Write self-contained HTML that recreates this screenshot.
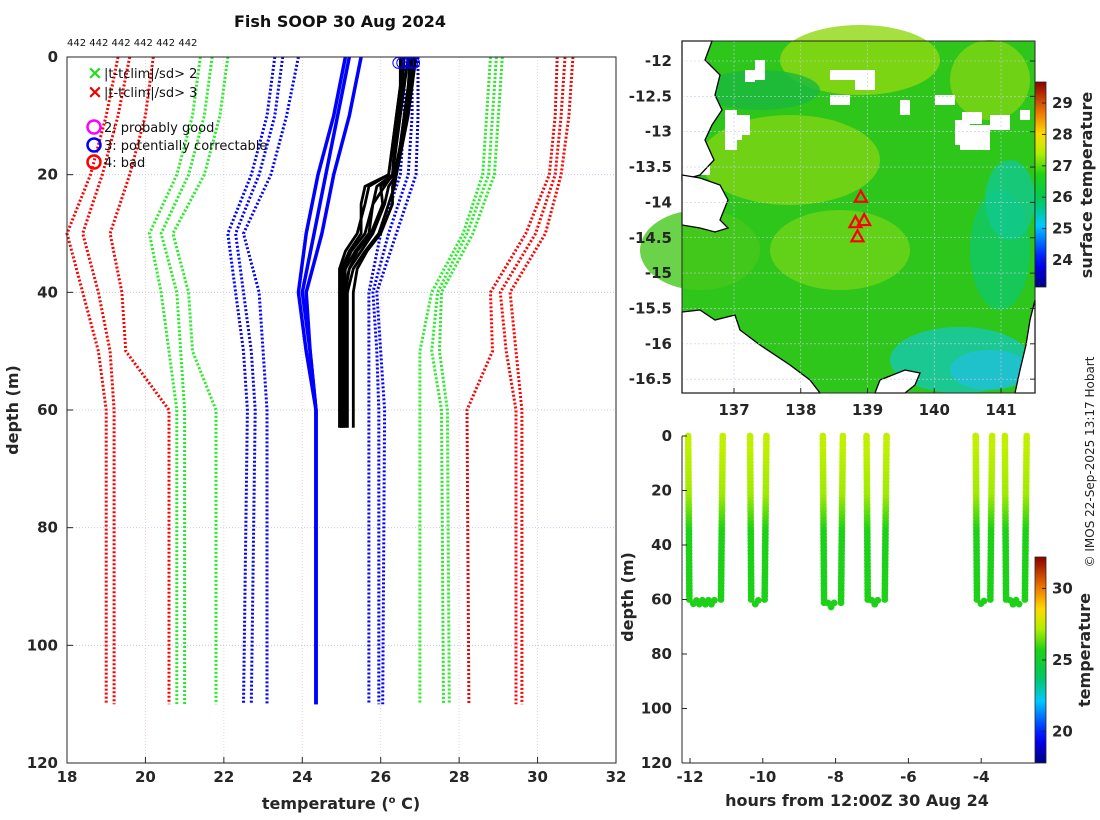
<!DOCTYPE html>
<html><head><meta charset="utf-8">
<style>
html,body{margin:0;padding:0;background:#fff;}
svg{display:block;font-family:"DejaVu Sans","Liberation Sans",sans-serif;}
.tk{font-size:15px;font-weight:bold;fill:#262626;}
.lab{font-size:16px;font-weight:bold;fill:#262626;}
</style></head>
<body>
<svg id="root" width="1100" height="820" viewBox="0 0 1100 820" xmlns="http://www.w3.org/2000/svg">
<text x="340" y="27" text-anchor="middle" font-size="16" font-weight="bold" fill="#111">Fish SOOP 30 Aug 2024</text>
<text x="67" y="46" font-size="10" fill="#111">442 442 442 442 442 442</text>
<g id="left"></g>
<g id="map"></g>
<g id="track"></g>
<text transform="translate(1094,462) rotate(-90)" text-anchor="middle" font-size="12" fill="#222">© IMOS 22-Sep-2025 13:17 Hobart</text>
</svg>
<script>
const NS="http://www.w3.org/2000/svg";
// ---------- data: profile plot ----------
const depthNodes=[0,10,20,30,40,50,60,110];
const redLeft=[[19.3,19.0,18.6,18.0,18.4,18.8,19.0,19.0],[19.6,19.3,18.9,18.4,18.8,19.1,19.2,19.2],[20.2,20.0,19.6,19.1,19.4,19.5,20.6,20.6]];
const greenLeft=[[21.4,21.2,20.8,20.1,20.4,20.6,20.8,20.8],[21.7,21.5,21.1,20.4,20.8,20.9,21.0,21.0],[22.1,21.9,21.5,20.7,21.1,21.2,21.8,21.8]];
const blueLeft=[[23.3,23.1,22.7,22.1,22.3,22.5,22.6,22.5],[23.5,23.3,22.9,22.3,22.5,22.7,22.8,22.7],[23.9,23.6,23.2,22.5,22.9,23.0,23.1,23.1]];
const blueSolid=[[25.1,24.8,24.4,24.1,23.9,24.1,24.35,24.35],[25.2,24.9,24.6,24.3,24.0,24.2,24.35,24.35],[25.5,25.2,24.8,24.5,24.1,24.2,24.35,24.35]];
const blueRight=[[26.6,26.6,26.5,26.0,25.7,25.7,25.7,25.7],[26.8,26.8,26.7,26.2,25.8,25.9,25.95,25.95],[26.95,26.95,26.9,26.4,25.9,26.0,26.1,26.05]];
const greenRight=[[28.8,28.7,28.6,28.1,27.3,27.0,27.0,27.0],[28.95,28.85,28.75,28.2,27.45,27.3,27.55,27.6],[29.1,29.0,28.9,28.35,27.55,27.5,27.7,27.75]];
const redRight=[[30.5,30.45,30.3,29.7,28.8,28.85,28.2,28.25],[30.7,30.6,30.45,29.95,29.05,29.2,29.45,29.45],[30.9,30.8,30.6,30.2,29.3,29.45,29.6,29.6]];
const blackDepths=[0,5,10,15,20,22,25,30,33,36,40,50,63];
const blackProfiles=[
[26.5,26.5,26.4,26.3,26.2,25.7,25.6,25.4,25.1,24.95,24.95,24.95,24.95],
[26.6,26.55,26.45,26.35,26.3,25.9,25.8,25.6,25.25,25.05,25.0,25.0,25.0],
[26.7,26.6,26.5,26.4,26.3,26.1,25.8,25.7,25.35,25.1,25.05,25.05,25.05],
[26.8,26.7,26.6,26.5,26.4,26.2,26.1,25.8,25.5,25.2,25.1,25.1,25.1],
[26.9,26.8,26.7,26.55,26.4,26.35,26.2,25.95,25.6,25.3,25.15,25.15,25.15],
[26.55,26.5,26.4,26.3,26.2,25.6,25.5,25.5,25.2,25.0,25.0,25.0,25.0],
[26.75,26.7,26.6,26.5,26.35,26.0,26.05,25.75,25.4,25.2,25.05,25.05,25.05],
[26.85,26.75,26.65,26.5,26.4,26.3,26.3,26.0,25.65,25.4,25.3,25.3,25.3]];
const surfaceMarks=[26.45,26.55,26.7,26.8,26.85];
const xTicks=[18,20,22,24,26,28,30,32];
const yTicks=[0,20,40,60,80,100,120];

function el(t,a,p){const e=document.createElementNS(NS,t);for(const k in a)e.setAttribute(k,a[k]);if(p)p.appendChild(e);return e;}
const L=document.getElementById('left');
const lx=v=>67+(v-18)*(549/14), ly=d=>57+d*(706/120);
xTicks.forEach(v=>{const g=el('line',{x1:lx(v),x2:lx(v),y1:57,y2:763,stroke:'#e8c8c8','stroke-width':0.8,'stroke-dasharray':'1,2'},L);

const t=el('text',{x:lx(v),y:782,'text-anchor':'middle',class:'tk'},L);t.textContent=v;

el('line',{x1:lx(v),x2:lx(v),y1:763,y2:757,stroke:'#262626'},L);});
yTicks.forEach(v=>{const g=el('line',{x1:67,x2:616,y1:ly(v),y2:ly(v),stroke:'#b8c0ee','stroke-width':0.8,'stroke-dasharray':'1,2'},L);

const t=el('text',{x:58,y:ly(v)+5,'text-anchor':'end',class:'tk'},L);t.textContent=v;

el('line',{x1:67,x2:73,y1:ly(v),y2:ly(v),stroke:'#262626'},L);});
function prof(arr,deps,color,w,dash,name){const d=arr.map((v,i)=>(i?'L':'M')+lx(v).toFixed(1)+','+ly(deps[i]).toFixed(1)).join('');
const p=el('path',{d:d,fill:'none',stroke:color,'stroke-width':w,'stroke-linejoin':'round'},L);if(dash)p.setAttribute('stroke-dasharray',dash);
}
redLeft.forEach(a=>prof(a,depthNodes,'#f00',3,'2,2','clim-red-lower'));
greenLeft.forEach(a=>prof(a,depthNodes,'#2e2',3,'2,2','clim-green-lower'));
blueLeft.forEach(a=>prof(a,depthNodes,'#00f',3,'2,2','clim-blue-lower'));
blueSolid.forEach(a=>prof(a,depthNodes,'#00f',3.5,null,'clim-mean-profile'));
blueRight.forEach(a=>prof(a,depthNodes,'#00f',3,'2,2','clim-blue-upper'));
greenRight.forEach(a=>prof(a,depthNodes,'#2e2',3,'2,2','clim-green-upper'));
redRight.forEach(a=>prof(a,depthNodes,'#f00',3,'2,2','clim-red-upper'));
blackProfiles.forEach(a=>prof(a,blackDepths,'#000',2.8,null,'measured-profile'));
surfaceMarks.forEach(v=>{const c=el('circle',{cx:lx(v),cy:ly(1),r:5.5,fill:'none',stroke:'#00f','stroke-width':1},L);
});
el('rect',{x:67,y:57,width:549,height:706,fill:'none',stroke:'#262626','stroke-width':1},L);
const lg=el('g',{},L);
[['×','#2d2',73,'|t-tclim|/sd> 2'],['×','#e00',92,'|t-tclim|/sd> 3']].forEach(r=>{
const m=el('text',{x:87,y:r[2]+6,'font-size':19,'font-weight':'bold',fill:r[1]},lg);m.textContent=r[0];
const t=el('text',{x:104,y:r[2]+5,'font-size':13,fill:'#111'},lg);t.textContent=r[3];
});
[['#f0f',127,'2: probably good'],['#00f',145,'3: potentially correctable'],['#f00',162,'4: bad']].forEach(r=>{
el('circle',{cx:94,cy:r[1],r:6.5,fill:'none',stroke:r[0],'stroke-width':2.5},lg);
const t=el('text',{x:104,y:r[1]+5,'font-size':13,fill:'#111'},lg);t.textContent=r[2];
});
const xl=el('text',{x:341,y:809,'text-anchor':'middle',class:'lab'},L);xl.innerHTML='temperature (<tspan font-size="10" dy="-6">o</tspan><tspan dy="6"> C)</tspan>';

const yl=el('text',{transform:'translate(18,410) rotate(-90)','text-anchor':'middle',class:'lab'},L);yl.textContent='depth (m)';


// ---------- colormap ----------
const jetStops=[[0,[0,0,128]],[0.12,[0,0,255]],[0.3,[0,200,255]],[0.42,[0,200,90]],[0.55,[30,210,20]],[0.66,[190,240,0]],[0.75,[255,215,0]],[0.86,[235,110,0]],[1,[140,0,0]]];
function cmap(f){f=Math.max(0,Math.min(1,f));for(let i=1;i<jetStops.length;i++){if(f<=jetStops[i][0]){const a=jetStops[i-1],b=jetStops[i],t=(f-a[0])/(b[0]-a[0]);
return 'rgb('+a[1].map((c,k)=>Math.round(c+(b[1][k]-c)*t)).join(',')+')';}}return 'rgb(140,0,0)';}
function colorbar(g,x,y0,y1,vmin,vmax,ticks,id){const defs=el('defs',{},g);const lgd=el('linearGradient',{id:id,x1:0,y1:1,x2:0,y2:0},defs);
for(let i=0;i<=20;i++)el('stop',{offset:i/20,'stop-color':cmap(i/20)},lgd);
const r=el('rect',{x:x,y:y0,width:11,height:y1-y0,fill:'url(#'+id+')',stroke:'#262626','stroke-width':0.8},g);

ticks.forEach(v=>{const yy=y1-(v-vmin)/(vmax-vmin)*(y1-y0);el('line',{x1:x+11,x2:x+7,y1:yy,y2:yy,stroke:'#262626'},g);
const t=el('text',{x:x+17,y:yy+5,class:'tk'},g);t.textContent=v;});}

// ---------- map ----------
const M=document.getElementById('map');
const lonTicks=[137,138,139,140,141];
const latTicks=[-12,-12.5,-13,-13.5,-14,-14.5,-15,-15.5,-16,-16.5];
const shipLon=[138.9,138.95,138.82,138.85];
const shipLat=[-13.92,-14.25,-14.28,-14.48];
const mx=v=>734+(v-137)*66.75, my=v=>61+(-12-v)*70.7;
el('rect',{x:682,y:41,width:353,height:352,fill:'#2fc61c'},M);
const patches=[[860,60,80,35,'#8ed810'],[990,80,40,40,'#7fd414'],[790,160,90,45,'#7fd414'],[840,250,70,40,'#6fd418'],[700,250,60,40,'#46c81c'],[1000,250,30,60,'#10c868'],[960,360,70,33,'#18c8b0'],[990,370,40,20,'#20c0d8'],[1010,200,25,40,'#10c890'],[760,90,60,20,'#1ab840']];
patches.forEach(p=>{const e=el('ellipse',{cx:p[0],cy:p[1],rx:p[2],ry:p[3],fill:p[4],opacity:0.8},M);});
const clouds=[[755,60,10,20],[745,70,10,12],[830,70,25,10],[855,70,20,20],[725,110,12,40],[830,95,20,10],[735,115,15,20],[935,95,20,10],[962,112,20,12],[955,120,15,25],[960,125,30,25],[730,130,12,10],[900,100,10,15],[990,115,20,15],[1020,110,10,10],[700,150,10,25]];
clouds.forEach(c=>{const e=el('rect',{x:c[0],y:c[1],width:c[2],height:c[3],fill:'#fff'},M);});
const land=[['M682,41 L712,41 L705,60 L720,75 L715,95 L722,110 L712,125 L705,140 L714,160 L700,175 L682,180 Z'],
['M682,175 L700,178 L720,185 L728,200 L720,220 L728,228 L715,232 L700,228 L682,225 Z'],
['M682,312 L700,310 L715,320 L735,315 L740,330 L760,345 L790,365 L810,380 L820,393 L682,393 Z'],
['M875,393 L880,380 L905,370 L920,373 L915,385 L905,393 Z'],
['M1035,300 L1030,320 L1026,345 L1020,370 L1015,393 L1035,393 Z']];
land.forEach(s=>{const e=el('path',{d:s[0],fill:'#fff',stroke:'#000','stroke-width':1.3},M);});
lonTicks.forEach(v=>{el('line',{x1:mx(v),x2:mx(v),y1:41,y2:393,stroke:'#c8cce8','stroke-width':0.6,'stroke-dasharray':'2,2'},M);
el('line',{x1:mx(v),x2:mx(v),y1:393,y2:388,stroke:'#262626'},M);
const t=el('text',{x:mx(v),y:415,'text-anchor':'middle',class:'tk'},M);t.textContent=v;});
latTicks.forEach(v=>{el('line',{x1:682,x2:1035,y1:my(v),y2:my(v),stroke:'#c8cce8','stroke-width':0.6,'stroke-dasharray':'2,2'},M);
el('line',{x1:1035,x2:1030,y1:my(v),y2:my(v),stroke:'#262626'},M);
const t=el('text',{x:672,y:my(v)+5,'text-anchor':'end',class:'tk'},M);t.textContent=v;});
shipLon.forEach((v,i)=>{const x=mx(v),y=my(shipLat[i]);const p=el('path',{d:`M${x},${y-6}L${x+6},${y+5}L${x-6},${y+5}Z`,fill:'none',stroke:'#f00','stroke-width':2.2},M);
});
el('rect',{x:682,y:41,width:353,height:352,fill:'none',stroke:'#262626','stroke-width':1},M);
colorbar(M,1035,82,287,23.14,29.67,[24,25,26,27,28,29],'cb1');
const ml=el('text',{transform:'translate(1092,185) rotate(-90)','text-anchor':'middle',class:'lab'},M);ml.textContent='surface temperature';


// ---------- depth-time plot ----------
const T=document.getElementById('track');
const castStart=[-12.05,-10.35,-8.35,-7.15,-4.15,-3.35];
const castEnd=[-11.1,-9.9,-7.8,-6.6,-3.7,-2.75];
const castBottom=[61,61,62,61,61,61];
const surfTemp=27.4, deepTemp=25.6, mixDepth=22;
const hTicks=[-12,-10,-8,-6,-4];
const dTicks=[0,20,40,60,80,100,120];
const tx=h=>690+(h+12)*36.4, ty=d=>436+d*(327/120);
const tcol=d=>{const t=d<mixDepth?surfTemp-(surfTemp-27.0)*d/mixDepth:Math.max(deepTemp,27.0-(d-mixDepth)*0.1);return cmap((t-17.8)/(32.2-17.8));};
castStart.forEach((h0,i)=>{const h1=castEnd[i],b=castBottom[i];const g=el('g',{},T);
for(let d=0;d<=b;d+=1.2){el('circle',{cx:tx(h0)+d*0.02,cy:ty(d),r:3.4,fill:tcol(d)},g);el('circle',{cx:tx(h1)-d*0.03,cy:ty(d),r:3.4,fill:tcol(d)},g);}
const x0=tx(h0)+b*0.02+4,x1=tx(h1)-b*0.03-4;for(let x=x0;x<=x1;x+=3)el('circle',{cx:x,cy:ty(b)+Math.sin(x)*2,r:3.4,fill:tcol(b)},g);});
el('line',{x1:682,x2:682,y1:436,y2:763,stroke:'#262626'},T);
el('line',{x1:682,x2:1035,y1:763,y2:763,stroke:'#262626'},T);
hTicks.forEach(v=>{el('line',{x1:tx(v),x2:tx(v),y1:763,y2:758,stroke:'#262626'},T);
const t=el('text',{x:tx(v),y:782,'text-anchor':'middle',class:'tk'},T);t.textContent=v;});
dTicks.forEach(v=>{el('line',{x1:682,x2:687,y1:ty(v),y2:ty(v),stroke:'#262626'},T);
const t=el('text',{x:672,y:ty(v)+5,'text-anchor':'end',class:'tk'},T);t.textContent=v;});
colorbar(T,1035,557,763,17.8,32.2,[20,25,30],'cb2');
const bx=el('text',{x:857,y:806,'text-anchor':'middle',class:'lab'},T);bx.textContent='hours from 12:00Z 30 Aug 24';

const by=el('text',{transform:'translate(633,597) rotate(-90)','text-anchor':'middle',class:'lab'},T);by.textContent='depth (m)';

const bc=el('text',{transform:'translate(1090,650) rotate(-90)','text-anchor':'middle',class:'lab'},T);bc.textContent='temperature';

</script>
</body></html>
